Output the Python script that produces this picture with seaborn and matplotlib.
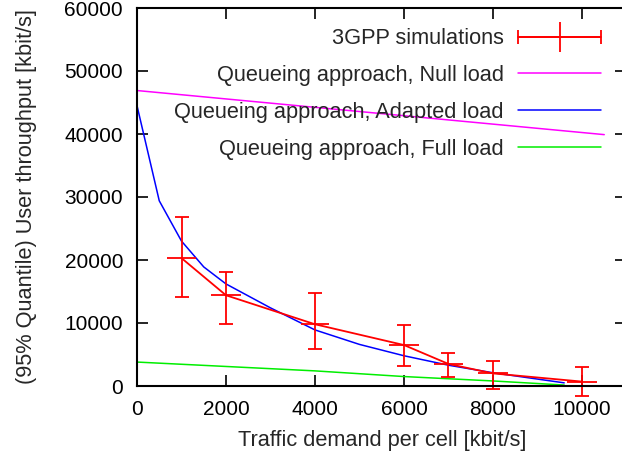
import numpy as np
import pandas as pd
import matplotlib
matplotlib.use("Agg")
import matplotlib.pyplot as plt
from matplotlib.legend_handler import HandlerErrorbar
import seaborn as sns

# 3GPP simulation points (centre, error bar ends)
sim_x = [1000, 2000, 4000, 6000, 7000, 8000, 10000]
sim_y = [20300, 14400, 9800, 6500, 3500, 2000, 700]
sim_ylow = [14100, 9900, 5900, 3200, 1400, -500, -1600]
sim_yhigh = [26800, 18100, 14800, 9700, 5200, 4000, 3000]
sim_xerr = [330, 330, 310, 330, 330, 330, 330]

# queueing approach curves
null_x = [0, 10500]
null_y = [46900, 39900]

adapted_x = [0, 500, 1000, 1500, 2000, 3000, 4000, 5000, 6000, 7000, 8000, 9600]
adapted_y = [44500, 29400, 23000, 18900, 16200, 12400, 8900, 6600, 4800, 3300, 2100, 500]

full_x = [0, 2000, 4000, 6000, 8000, 9600]
full_y = [3800, 3100, 2400, 1500, 800, 150]

sns.set_style("ticks")
plt.rcParams['font.family'] = ['Liberation Sans', 'DejaVu Sans']

FS = 15.7

fig = plt.figure(figsize=(6.22, 4.59), dpi=100)
ax = fig.add_axes([137 / 622, 73 / 459, 489.5 / 622, 378 / 459])

df_null = pd.DataFrame({"x": null_x, "y": null_y})
df_adapted = pd.DataFrame({"x": adapted_x, "y": adapted_y})
df_full = pd.DataFrame({"x": full_x, "y": full_y})
df_sim = pd.DataFrame({"x": sim_x, "y": sim_y})

sns.lineplot(data=df_null, x="x", y="y", ax=ax, color="#ff00ff", lw=1.1)
sns.lineplot(data=df_adapted, x="x", y="y", ax=ax, color="#0000ff", lw=1.1)
sns.lineplot(data=df_full, x="x", y="y", ax=ax, color="#00ee00", lw=1.1)
sns.lineplot(data=df_sim, x="x", y="y", ax=ax, color="red", lw=1.3)

ylo = np.array(sim_y) - np.array(sim_ylow)
yhi = np.array(sim_yhigh) - np.array(sim_y)
e1 = ax.errorbar(sim_x, sim_y, yerr=[ylo, yhi], fmt="none", ecolor="red",
                 elinewidth=1.3, capsize=5, capthick=1.3)
e2 = ax.errorbar(sim_x, sim_y, xerr=sim_xerr, fmt="none", ecolor="red",
                 elinewidth=1.3, capsize=0)
for cont in (e1, e2):
    for art in list(cont[1]) + list(cont[2]):
        art.set_clip_on(False)

# legend handles
h_sim = ax.errorbar([np.nan], [np.nan], xerr=[1], color="red", marker="|",
                    markersize=21, mew=1.3, lw=1.3, capsize=5, capthick=1.3)
h_null, = ax.plot([], [], color="#ff00ff", lw=1.1)
h_adapted, = ax.plot([], [], color="#0000ff", lw=1.1)
h_full, = ax.plot([], [], color="#00ee00", lw=1.1)
ax.legend([h_sim, h_null, h_adapted, h_full],
          ["3GPP simulations", "Queueing approach, Null load",
           "Queueing approach, Adapted load", "Queueing approach, Full load"],
          loc="upper right", bbox_to_anchor=(0.979, 0.987), markerfirst=False,
          frameon=False, fontsize=FS, handlelength=3.8, handletextpad=0.65,
          labelspacing=0.73, borderpad=0.2,
          handler_map={h_sim: HandlerErrorbar(xerr_size=1.9)})

ax.set_xlim(0, 11000)
ax.set_ylim(0, 60000)
ax.set_xticks([0, 2000, 4000, 6000, 8000, 10000])
ax.set_yticks(range(0, 60001, 10000))
ax.tick_params(direction="in", length=8, width=1.2, labelsize=15,
               top=True, right=True, color="black", labelcolor="black")
ax.tick_params(axis="y", pad=10)
ax.tick_params(axis="x", pad=10)
for sp in ax.spines.values():
    sp.set_visible(True)
    sp.set_linewidth(1.5)
    sp.set_color("black")

ax.set_xlabel("Traffic demand per cell [kbit/s]", fontsize=FS, labelpad=8)
ax.set_ylabel("(95% Quantile) User throughput [kbit/s]", fontsize=FS, labelpad=20)

fig.savefig("out.png", dpi=100)
